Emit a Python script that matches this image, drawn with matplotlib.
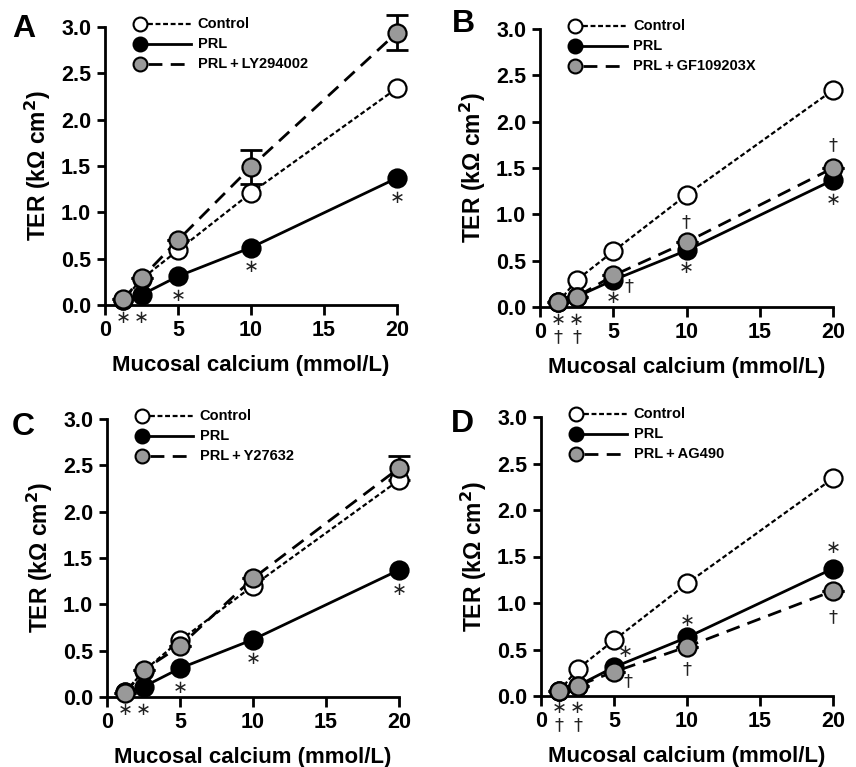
import matplotlib
matplotlib.use("Agg")
import matplotlib.pyplot as plt
from matplotlib.lines import Line2D

plt.rcParams['font.family'] = ['Liberation Sans', 'DejaVu Sans']

# mucosal calcium concentrations (mmol/L)
calcium = [1.25, 2.5, 5, 10, 20]
xticks = [0, 5, 10, 15, 20]
yticks = [0.0, 0.5, 1.0, 1.5, 2.0, 2.5, 3.0]

# TER values (kOhm cm2) per panel
control_A = [0.05, 0.28, 0.59, 1.21, 2.34]
prl_A = [0.05, 0.11, 0.31, 0.62, 1.37]
drug_A = [0.06, 0.29, 0.70, 1.49, 2.94]
drug_err_A = [0.0, 0.0, 0.0, 0.18, 0.19]

control_B = [0.05, 0.29, 0.60, 1.21, 2.34]
prl_B = [0.05, 0.11, 0.29, 0.61, 1.37]
drug_B = [0.05, 0.11, 0.34, 0.70, 1.50]
drug_err_B = [0.0, 0.0, 0.0, 0.0, 0.0]

control_C = [0.05, 0.28, 0.61, 1.20, 2.34]
prl_C = [0.05, 0.11, 0.31, 0.62, 1.37]
drug_C = [0.04, 0.29, 0.55, 1.28, 2.47]
drug_err_C = [0.0, 0.0, 0.0, 0.0, 0.13]

control_D = [0.05, 0.29, 0.60, 1.21, 2.34]
prl_D = [0.05, 0.11, 0.31, 0.63, 1.37]
drug_D = [0.05, 0.11, 0.26, 0.53, 1.13]
drug_err_D = [0.0, 0.0, 0.0, 0.0, 0.0]

drug_names = ["PRL\u2009+\u2009LY294002", "PRL\u2009+\u2009GF109203X",
              "PRL\u2009+\u2009Y27632", "PRL\u2009+\u2009AG490"]
letters = ["A", "B", "C", "D"]
letter_pos = [(-0.277, 0.993), (-0.263, 1.018), (-0.288, 0.971), (-0.270, 0.975)]

# significance marks: (x, y, symbol); "*" vs PRL-free control, "†" vs drug
marks_A = [(1.25, -0.14, "*"), (2.5, -0.14, "*"), (5, 0.10, "*"), (10, 0.41, "*"), (20, 1.15, "*")]
marks_B = [(1.25, -0.23, "*†"), (2.5, -0.23, "*†"),
           (5, 0.10, "*"), (6.1, 0.22, "†"), (10, 0.42, "*"), (10, 0.92, "†"),
           (20, 1.15, "*"), (20, 1.75, "†")]
marks_C = [(1.25, -0.14, "*"), (2.5, -0.14, "*"), (5, 0.10, "*"), (10, 0.41, "*"), (20, 1.15, "*")]
marks_D = [(1.25, -0.22, "*†"), (2.5, -0.22, "*†"),
           (5.75, 0.47, "*"), (5.95, 0.16, "†"), (10, 0.81, "*"), (10, 0.29, "†"),
           (20, 1.59, "*"), (20, 0.85, "†")]

panels = [
    (control_A, prl_A, drug_A, drug_err_A, marks_A),
    (control_B, prl_B, drug_B, drug_err_B, marks_B),
    (control_C, prl_C, drug_C, drug_err_C, marks_C),
    (control_D, prl_D, drug_D, drug_err_D, marks_D),
]

W, H = 856, 767
# axes boxes in pixels: left, right, top, bottom
boxes = [(105, 397, 27, 305), (540, 833, 29, 307), (107, 399, 419, 697), (541, 833, 417, 696)]

fig = plt.figure(figsize=(W / 100, H / 100), dpi=100)

dotted = (0, (2.2, 1.2))
dashed = (0, (5, 3))
gray = "#999999"

for i, (ctl, prl, drug, err, marks) in enumerate(panels):
    l, r, t, b = boxes[i]
    ax = fig.add_axes([l / W, 1 - b / H, (r - l) / W, (b - t) / H])

    ax.plot(calcium, ctl, linestyle=dotted, color="black", lw=1.6, zorder=2, clip_on=False)
    ax.plot(calcium, prl, linestyle="-", color="black", lw=2.0, zorder=2, clip_on=False)
    ax.plot(calcium, drug, linestyle=dashed, color="black", lw=2.0, zorder=2, clip_on=False)

    ax.errorbar(calcium, drug, yerr=err, fmt="none", ecolor="black", elinewidth=2,
                capsize=8, capthick=2, zorder=3, clip_on=False)

    ax.plot(calcium, ctl, "o", ms=13, mfc="white", mec="black", mew=1.6, zorder=4, clip_on=False)
    ax.plot(calcium, prl, "o", ms=13, mfc="black", mec="black", mew=1.6, zorder=5, clip_on=False)
    ax.plot(calcium, drug, "o", ms=13, mfc=gray, mec="black", mew=1.6, zorder=6, clip_on=False)

    for x, y, s in marks:
        s = s.replace("*", "\u2217")
        if len(s) > 1:
            s = "\n".join(s)
        ax.text(x, y, s, ha="center", va="center", fontsize=13, linespacing=0.95,
                family=["DejaVu Sans"], color="#222222", clip_on=False)

    ax.set_xlim(0, 20)
    ax.set_ylim(0, 3.0)
    ax.set_xticks(xticks)
    ax.set_yticks(yticks)
    ax.set_yticklabels([f"{v:.1f}" for v in yticks])
    for side in ["top", "right"]:
        ax.spines[side].set_visible(False)
    for side in ["left", "bottom"]:
        ax.spines[side].set_linewidth(2)
    ax.tick_params(axis="x", width=2, length=7, direction="out", labelsize=15.5, pad=4)
    ax.tick_params(axis="y", width=2, length=6, direction="out", labelsize=15.5, pad=4)
    for lab in ax.get_xticklabels() + ax.get_yticklabels():
        lab.set_fontweight("bold")
    ax.set_xlabel("Mucosal calcium (mmol/L)", fontsize=16, fontweight="bold", labelpad=10)
    ax.set_ylabel("TER (kΩ cm$^\\mathbf{2}$)", fontsize=16.5, fontweight="bold", labelpad=6)

    # panel letter
    lx, ly = letter_pos[i]
    ax.text(lx, ly, letters[i], transform=ax.transAxes, fontsize=23,
            fontweight="bold", ha="center", va="center")

    # legend, drawn in axes fraction
    styles = [("white", dotted, 1.6, "Control"), ("black", "-", 2.0, "PRL"),
              (gray, dashed, 2.0, drug_names[i])]
    for k, (fc, ls, lw, name) in enumerate(styles):
        yy = 1.012 - 0.072 * k
        ax.add_line(Line2D([0.148, 0.296], [yy, yy], transform=ax.transAxes, color="black",
                           linestyle=ls, lw=lw, clip_on=False))
        ax.add_line(Line2D([0.12], [yy], transform=ax.transAxes, marker="o", ms=10,
                           mfc=fc, mec="black", mew=1.5, clip_on=False))
        ax.text(0.318, yy, name, transform=ax.transAxes, fontsize=10.5, fontweight="bold",
                ha="left", va="center")

fig.savefig("out.png", dpi=100)
